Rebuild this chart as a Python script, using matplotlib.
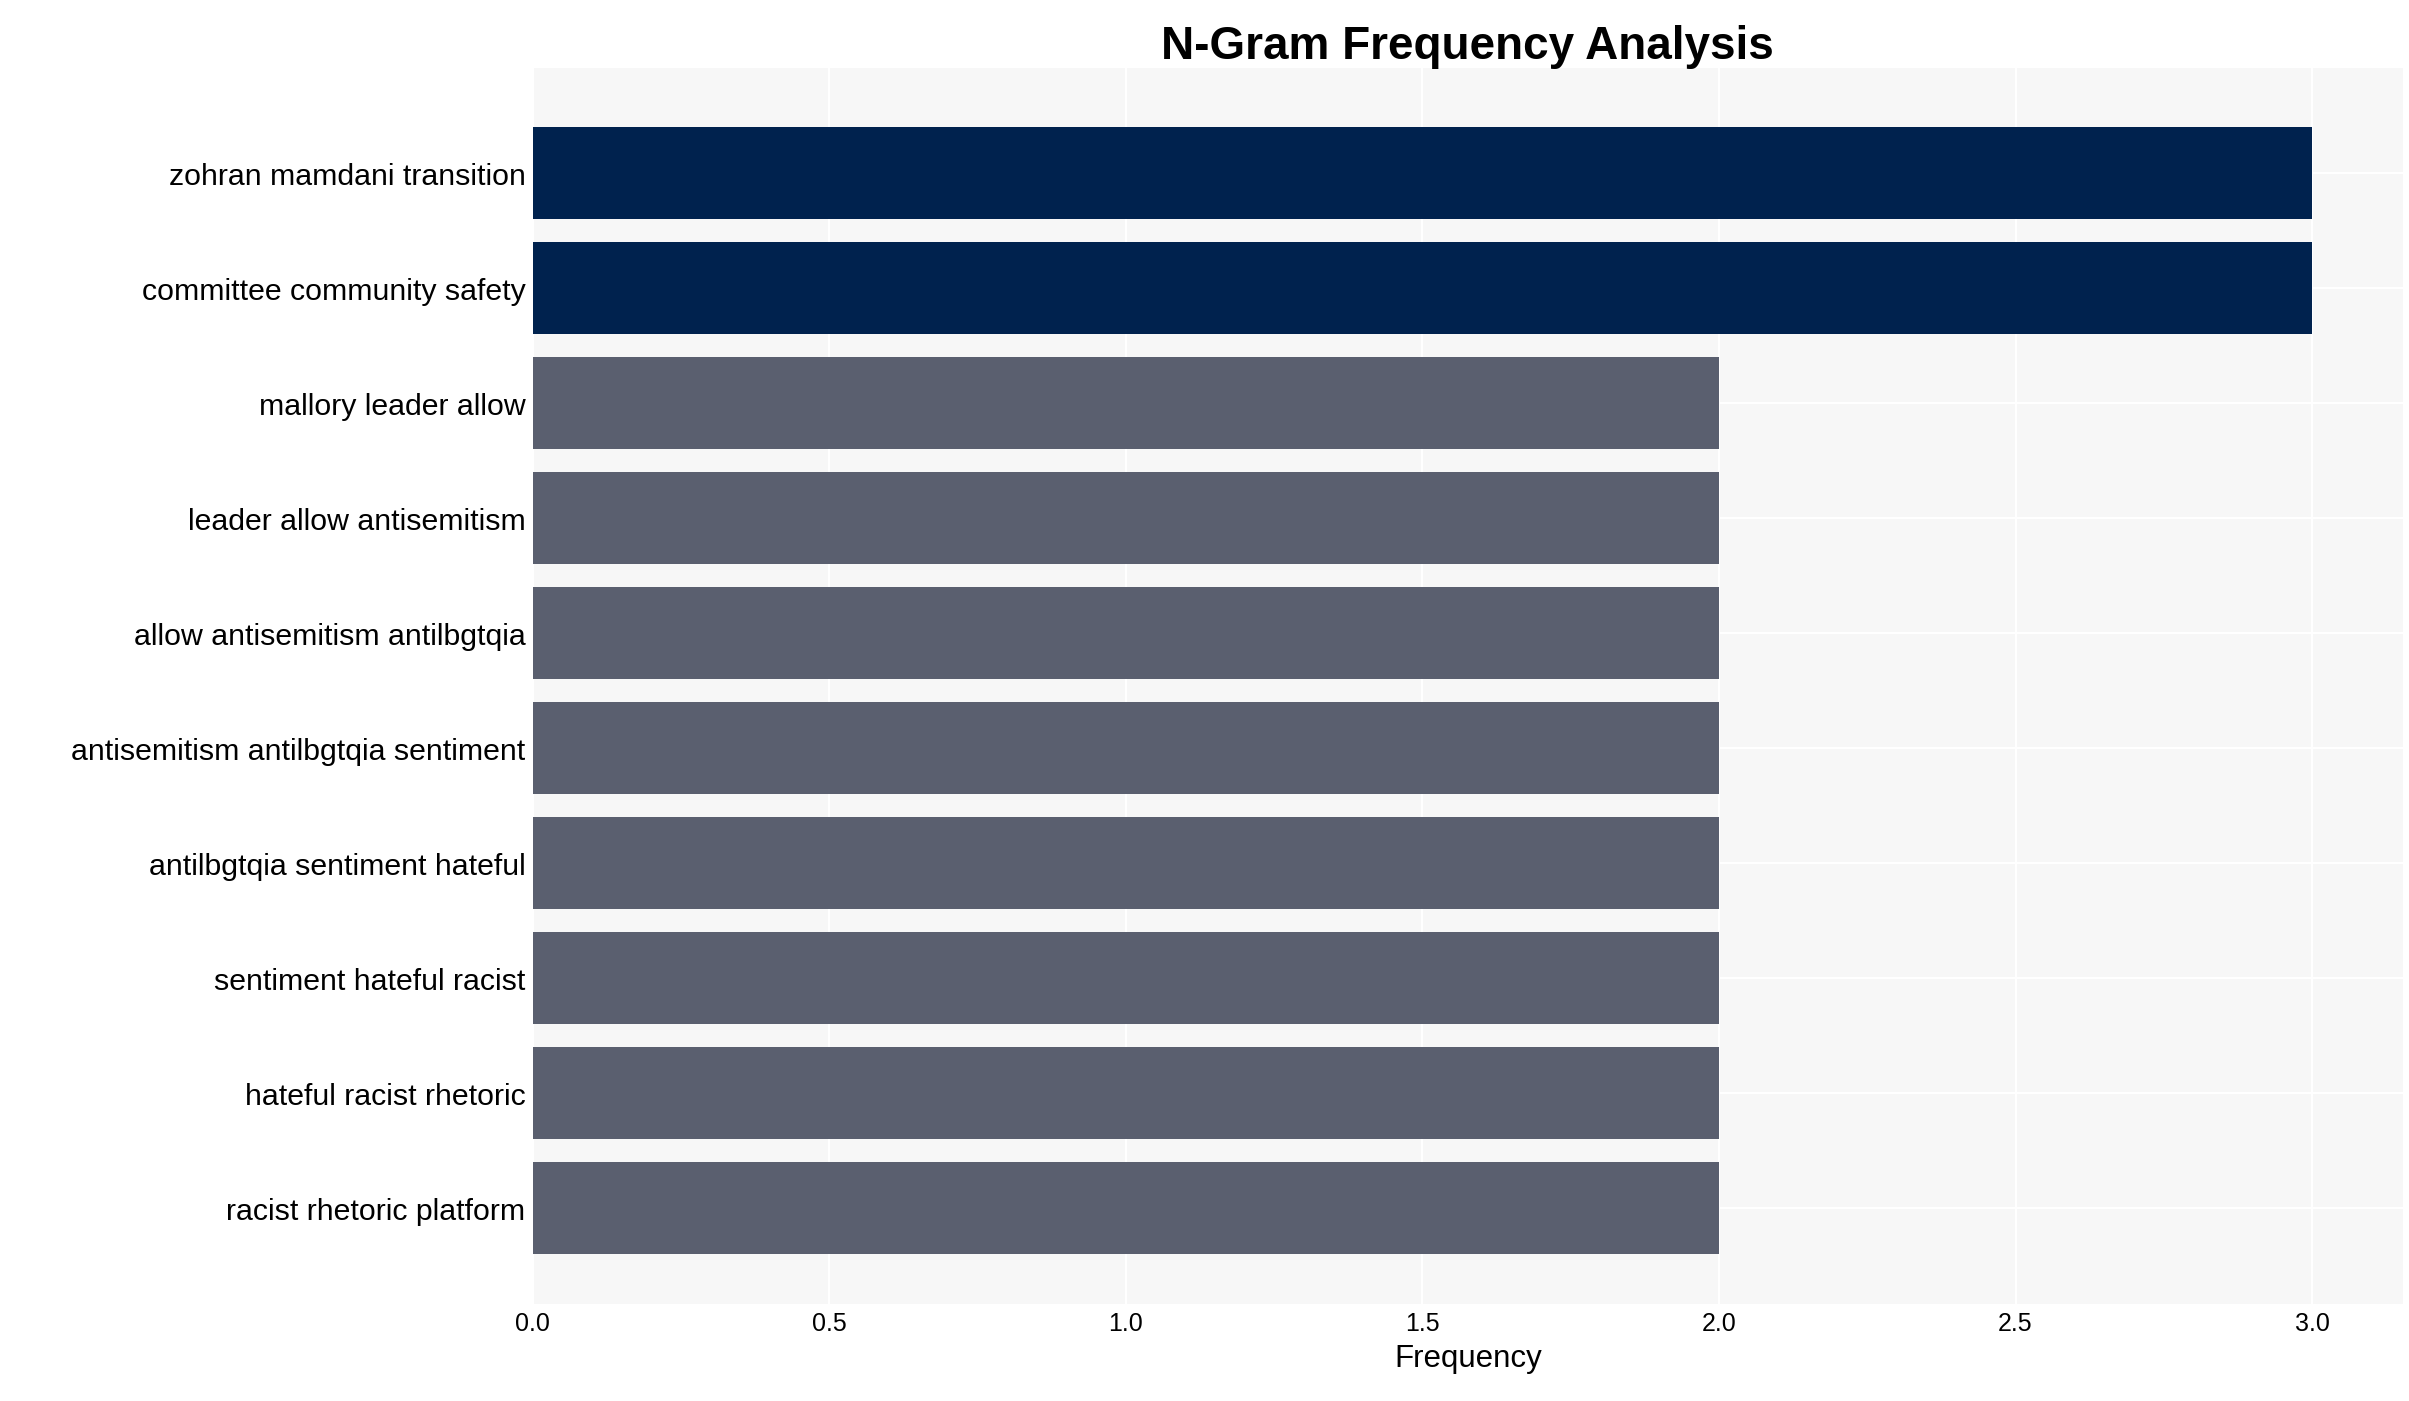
import matplotlib.pyplot as plt

plt.rcParams['font.family'] = ['Liberation Sans', 'DejaVu Sans']

ngrams = [
    "zohran mamdani transition",
    "committee community safety",
    "mallory leader allow",
    "leader allow antisemitism",
    "allow antisemitism antilbgtqia",
    "antisemitism antilbgtqia sentiment",
    "antilbgtqia sentiment hateful",
    "sentiment hateful racist",
    "hateful racist rhetoric",
    "racist rhetoric platform",
]
counts = [3, 3, 2, 2, 2, 2, 2, 2, 2, 2]

colors = ["#00224e" if c == max(counts) else "#5a5f6f" for c in counts]

fig = plt.figure(figsize=(2409 / 150, 1402 / 150), dpi=150)
ax = fig.add_axes([345 / 1560, 1 - 845 / 908, (1556 - 345) / 1560, (845 - 45) / 908])
ax.set_facecolor("#f7f7f7")
ax.barh(range(len(ngrams)), counts, color=colors, height=0.8, zorder=2)
ax.set_yticks(range(len(ngrams)))
ax.set_yticklabels(ngrams, fontsize=14.5)
ax.set_ylim(9.83, -0.91)
ax.set_xlim(0, 3.153)
ax.set_xticks([0, 0.5, 1, 1.5, 2, 2.5, 3])
ax.set_xticklabels(["0.0", "0.5", "1.0", "1.5", "2.0", "2.5", "3.0"], fontsize=12)
ax.grid(True, color="white", linewidth=1, zorder=0)
ax.tick_params(length=0)
for s in ax.spines.values():
    s.set_visible(False)
ax.set_xlabel("Frequency", fontsize=15)
ax.set_title("N-Gram Frequency Analysis", fontsize=22, fontweight="bold", pad=3)

fig.savefig("out.png", dpi=150)
